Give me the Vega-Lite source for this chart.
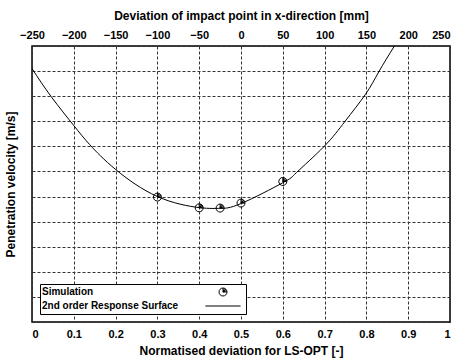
{
  "$schema": "https://vega.github.io/schema/vega-lite/v6.json",
  "width": 418,
  "height": 276,
  "autosize": {"type": "none"},
  "padding": {"left": 32, "top": 46, "right": 5, "bottom": 37},
  "background": "white",
  "config": {
    "font": "Liberation Sans",
    "view": {"stroke": "black", "strokeWidth": 1.5},
    "axis": {
      "labelFont": "Liberation Sans",
      "titleFont": "Liberation Sans",
      "labelFontWeight": "bold",
      "titleFontWeight": "bold",
      "labelColor": "black",
      "titleColor": "black",
      "labelFontSize": 11,
      "titleFontSize": 12,
      "domain": false,
      "ticks": false,
      "gridColor": "#333333",
      "gridDash": [3, 2],
      "gridOpacity": 1,
      "gridWidth": 1
    }
  },
  "datasets": {
    "curve": [
      {"x": 0, "y": 10.1},
      {"x": 0.046, "y": 8.98},
      {"x": 0.1, "y": 7.83},
      {"x": 0.138, "y": 7.07},
      {"x": 0.2, "y": 6.08},
      {"x": 0.3, "y": 5.0},
      {"x": 0.4, "y": 4.56},
      {"x": 0.45, "y": 4.53},
      {"x": 0.5, "y": 4.72},
      {"x": 0.6, "y": 5.55},
      {"x": 0.633, "y": 5.96},
      {"x": 0.699, "y": 7.0},
      {"x": 0.749, "y": 8.0},
      {"x": 0.798, "y": 9.08},
      {"x": 0.83, "y": 9.98},
      {"x": 0.867, "y": 11.0}
    ],
    "simulation": [
      {"x": 0.3, "y": 4.98, "series": "Simulation"},
      {"x": 0.4, "y": 4.55, "series": "Simulation"},
      {"x": 0.45, "y": 4.54, "series": "Simulation"},
      {"x": 0.5, "y": 4.74, "series": "Simulation"},
      {"x": 0.6, "y": 5.6, "series": "Simulation"}
    ],
    "topaxis": [
      {"mm": -250},
      {"mm": 250}
    ]
  },
  "layer": [
    {
      "encoding": {
        "x": {
          "field": "x", "type": "quantitative",
          "scale": {"domain": [0, 1], "nice": false},
          "axis": {
            "orient": "bottom",
            "values": [0, 0.1, 0.2, 0.3, 0.4, 0.5, 0.6, 0.7, 0.8, 0.9, 1],
            "format": "~g",
            "title": "Normatised deviation for LS-OPT [-]",
            "grid": true,
            "labelPadding": 6,
            "titlePadding": 6
          }
        },
        "y": {
          "field": "y", "type": "quantitative",
          "scale": {"domain": [0, 11], "nice": false, "zero": false},
          "axis": {
            "values": [0, 1, 2, 3, 4, 5, 6, 7, 8, 9, 10, 11],
            "labels": false,
            "grid": true,
            "title": "Penetration velocity [m/s]",
            "titlePadding": 15
          }
        }
      },
      "layer": [
        {
          "data": {"name": "curve"},
          "mark": {"type": "line", "color": "black", "strokeWidth": 1, "interpolate": "natural", "clip": true}
        },
        {
          "data": {"name": "simulation"},
          "mark": {"type": "point", "filled": false, "color": "black", "strokeWidth": 1, "size": 64, "opacity": 1},
          "encoding": {
            "shape": {
              "field": "series", "type": "nominal",
              "scale": {
                "domain": ["Simulation", "2nd order Response Surface"],
                "range": [
                  "M1,0A1,1,0,1,1,-1,0A1,1,0,1,1,1,0ZM0,0L0,-1M0,0L0.38,-0.92M0,0L0.71,-0.71M0,0L0.92,-0.38M0,0L1,0",
                  "M-4.4,0L4.4,0"
                ]
              },
              "legend": {
                "title": null,
                "orient": "bottom-left",
                "offset": 8,
                "fillColor": "white",
                "strokeColor": "black",
                "padding": 3,
                "labelFont": "Liberation Sans",
                "labelFontWeight": "bold",
                "labelFontSize": 10,
                "labelColor": "black",
                "symbolOffset": 175,
                "labelOffset": -186,
                "rowPadding": 3,
                "symbolStrokeColor": "black",
                "symbolStrokeWidth": 1,
                "symbolSize": 64
              }
            }
          }
        }
      ]
    },
    {
      "data": {"name": "topaxis"},
      "mark": {"type": "point", "opacity": 0},
      "encoding": {
        "x": {
          "field": "mm", "type": "quantitative",
          "scale": {"domain": [-250, 250], "nice": false},
          "axis": {
            "orient": "top",
            "values": [-250, -200, -150, -100, -50, 0, 50, 100, 150, 200, 250],
            "title": "Deviation of impact point in x-direction [mm]",
            "grid": false,
            "labelPadding": 6,
            "titlePadding": 7,
            "labelAlign": {"condition": {"test": "datum.value === 250", "value": "right"}, "value": "center"}
          }
        }
      }
    }
  ],
  "resolve": {"scale": {"x": "independent"}, "axis": {"x": "independent"}}
}
